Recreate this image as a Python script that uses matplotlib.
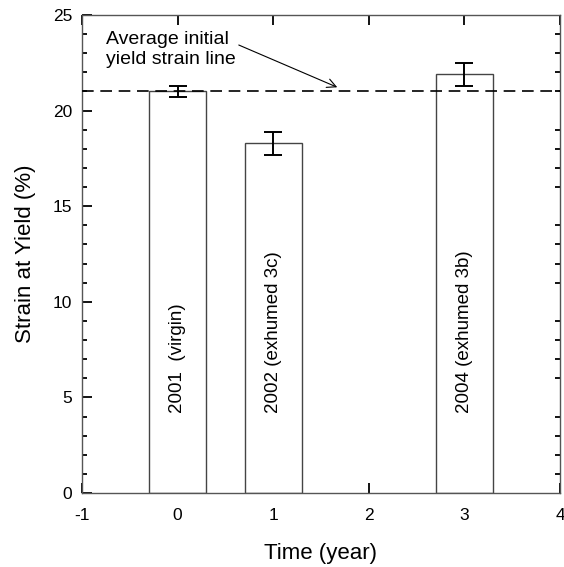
import matplotlib
matplotlib.use("Agg")
import matplotlib.pyplot as plt
from matplotlib.ticker import MultipleLocator

plt.rcParams["font.family"] = ["Liberation Sans", "DejaVu Sans"]
plt.rcParams["axes.unicode_minus"] = False

# data
positions = [0, 1, 3]
strain = [21.0, 18.3, 21.9]
strain_err = [0.3, 0.6, 0.6]
bar_labels = ["2001  (virgin)", "2002 (exhumed 3c)", "2004 (exhumed 3b)"]
avg_yield_strain = 21.0

fig = plt.figure(figsize=(5.64, 5.67), dpi=100)
fig.subplots_adjust(left=82 / 564, right=560 / 564, bottom=1 - 493 / 567, top=1 - 15 / 567)
ax = fig.add_subplot(111)
ax.set_axisbelow(True)

ax.bar(positions, strain, width=0.6, color="white", edgecolor="#444444", linewidth=1.0, zorder=1)
ax.errorbar(positions, strain, yerr=strain_err, fmt="none", ecolor="black",
            elinewidth=1.4, capsize=6.5, capthick=1.4, zorder=4)

ax.axhline(avg_yield_strain, color="black", linewidth=1.2, linestyle=(0, (7, 4)), zorder=3)

for x, lab in zip(positions, bar_labels):
    ax.text(x, 4.2, lab, rotation=90, ha="center", va="bottom", fontsize=13.5, zorder=5)

ax.text(-0.75, 24.15, "Average initial\nyield strain line", ha="left", va="top",
        fontsize=14, linespacing=1.2)
ax.annotate("", xy=(1.67, 21.22), xytext=(0.64, 23.43),
            arrowprops=dict(arrowstyle="->", color="black", lw=0.8,
                            mutation_scale=16, shrinkA=0, shrinkB=0))

ax.set_xlim(-1, 4)
ax.set_ylim(0, 25)
ax.xaxis.set_major_locator(MultipleLocator(1))
ax.yaxis.set_major_locator(MultipleLocator(5))
ax.yaxis.set_minor_locator(MultipleLocator(1))

ax.tick_params(axis="both", which="major", direction="in", length=7, width=1.3,
               labelsize=12.5, pad=7, top=True, right=False)
ax.tick_params(axis="y", which="minor", direction="in", length=3.5, width=1.3,
               left=True, right=True)
ax.tick_params(axis="x", which="major", pad=11)

for s in ax.spines.values():
    s.set_color("#555555")
    s.set_linewidth(1.0)

ax.set_xlabel("Time (year)", fontsize=16, labelpad=14)
ax.set_ylabel("Strain at Yield (%)", fontsize=16, labelpad=12)

fig.savefig("out.png", dpi=100)
